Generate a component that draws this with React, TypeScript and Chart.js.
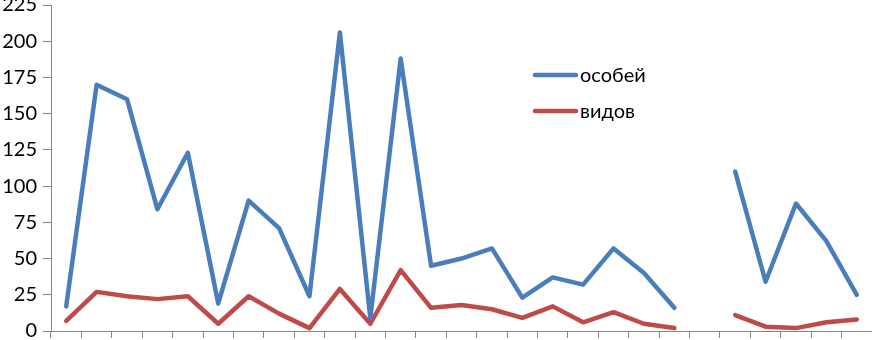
import React, { useEffect, useRef } from "react";
import { Chart, registerables } from "chart.js";

Chart.register(...registerables);

const categories = [
  "1", "2", "3", "4", "5", "6", "7", "8", "9", "10", "11", "12", "13", "14",
  "15", "16", "17", "18", "19", "20", "21", "22", "23", "24", "25", "26", "27",
];
const seriesNames = ["особей", "видов"];
const osobei = [17, 170, 160, 84, 123, 19, 90, 71, 24, 206, 9, 188, 45, 50, 57, 23, 37, 32, 57, 40, 16, null, 110, 34, 88, 62, 25];
const vidov = [7, 27, 24, 22, 24, 5, 24, 12, 2, 29, 5, 42, 16, 18, 15, 9, 17, 6, 13, 5, 2, null, 11, 3, 2, 6, 8];
const yMin = 0;
const yMax = 225;
const yStep = 25;

const BLUE = "#4a7ebb";
const RED = "#be4b48";
const AXIS = "#868686";
const FONT = "Lato, 'Open Sans', sans-serif";

const PLOT_TOP = 5;
const PLOT_BOTTOM = 331;
const X_AXIS_H = 9;

export default function App() {
  const ref = useRef<HTMLCanvasElement>(null);

  useEffect(() => {
    const canvas = ref.current!;

    const legendPlugin = {
      id: "insideLegend",
      afterDraw(chart: any) {
        const ctx = chart.ctx;
        const off = chart.chartArea.top - PLOT_TOP;
        const rows = [75, 111];
        ctx.save();
        chart.data.datasets.forEach((ds: any, i: number) => {
          const y = rows[i] + off;
          ctx.strokeStyle = ds.borderColor;
          ctx.lineWidth = 4.5;
          ctx.lineCap = "round";
          ctx.beginPath();
          ctx.moveTo(535, y);
          ctx.lineTo(576, y);
          ctx.stroke();
          ctx.fillStyle = "#000";
          ctx.font = `20px ${FONT}`;
          ctx.textBaseline = "middle";
          ctx.textAlign = "left";
          ctx.fillText(ds.label, 580, y + 1);
        });
        ctx.restore();
      },
    };

    const make = () =>
      new Chart(canvas, {
        type: "line",
        data: {
          labels: categories,
          datasets: [
            {
              label: seriesNames[0],
              data: osobei,
              borderColor: BLUE,
              backgroundColor: BLUE,
              borderWidth: 4.5,
              pointRadius: 0,
              tension: 0,
              borderCapStyle: "round",
              borderJoinStyle: "round",
              spanGaps: false,
            },
            {
              label: seriesNames[1],
              data: vidov,
              borderColor: RED,
              backgroundColor: RED,
              borderWidth: 4.5,
              pointRadius: 0,
              tension: 0,
              borderCapStyle: "round",
              borderJoinStyle: "round",
              spanGaps: false,
            },
          ],
        },
        options: {
          responsive: false,
          maintainAspectRatio: false,
          animation: false,
          devicePixelRatio: 1,
          layout: { padding: 0 },
          plugins: {
            legend: { display: false },
            tooltip: { enabled: false },
          },
          scales: {
            x: {
              type: "category",
              offset: true,
              grid: {
                offset: true,
                drawOnChartArea: false,
                drawTicks: true,
                tickLength: 7,
                color: AXIS,
              },
              border: { color: AXIS, width: 1 },
              ticks: { display: false },
              afterFit: (s: any) => {
                s.height = X_AXIS_H;
              },
            },
            y: {
              min: yMin,
              max: yMax,
              ticks: {
                stepSize: yStep,
                color: "#000",
                font: { family: FONT, size: 20 },
                padding: 6,
              },
              grid: {
                drawOnChartArea: false,
                tickLength: 8,
                color: AXIS,
              },
              border: { color: AXIS, width: 1 },
              afterFit: (s: any) => {
                s.width = 51;
              },
            },
          },
        },
        plugins: [legendPlugin],
      } as any);

    const H0 = 400;
    canvas.width = 872;
    canvas.height = H0;
    let chart = make();
    const dy = chart.chartArea.top - PLOT_TOP;
    const bottomPad = H0 - chart.chartArea.bottom;
    chart.destroy();
    const h = Math.round(PLOT_BOTTOM + dy + bottomPad);
    canvas.width = 872;
    canvas.height = h;
    canvas.style.width = "872px";
    canvas.style.height = h + "px";
    canvas.style.top = -dy + "px";
    chart = make();
    return () => chart.destroy();
  }, []);

  return (
    <div
      style={{
        position: "absolute",
        left: 0,
        top: 0,
        width: 872,
        height: 340,
        overflow: "hidden",
        background: "#fff",
      }}
    >
      <canvas ref={ref} style={{ position: "absolute", left: 0, top: 0 }} />
    </div>
  );
}
